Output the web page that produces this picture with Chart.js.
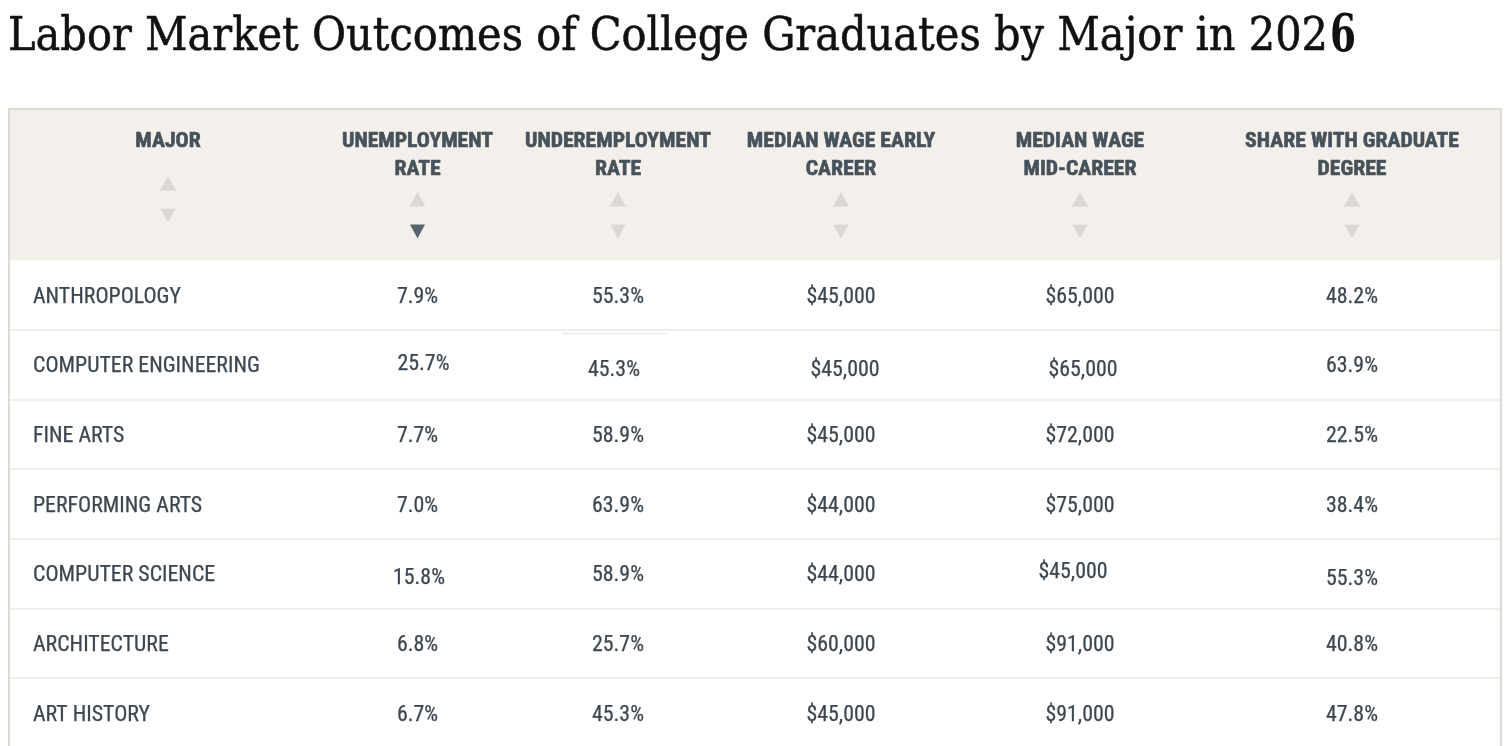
<!DOCTYPE html>
<html><head><meta charset="utf-8">
<script src="https://cdn.jsdelivr.net/npm/chart.js@4.4.1/dist/chart.umd.min.js"></script>
<style>
html,body{margin:0;padding:0;background:#fff;overflow:hidden;width:1509px;height:746px}
#wrap{position:relative;width:1509px;height:748px}
</style></head><body>
<div id="wrap"><canvas id="c"></canvas></div>
<script>
// ---------- data ----------
const titleMain = 'Labor Market Outcomes of College Graduates by Major in 202';
const titleLast = '6';
const columnHeaders = [
  ['MAJOR'],
  ['UNEMPLOYMENT', 'RATE'],
  ['UNDEREMPLOYMENT', 'RATE'],
  ['MEDIAN WAGE EARLY', 'CAREER'],
  ['MEDIAN WAGE', 'MID-CAREER'],
  ['SHARE WITH GRADUATE', 'DEGREE']
];
const majors = ['ANTHROPOLOGY', 'COMPUTER ENGINEERING', 'FINE ARTS', 'PERFORMING ARTS',
  'COMPUTER SCIENCE', 'ARCHITECTURE', 'ART HISTORY'];
const unemploymentRate = [7.9, 25.7, 7.7, 7.0, 15.8, 6.8, 6.7];
const underemploymentRate = [55.3, 45.3, 58.9, 63.9, 58.9, 25.7, 45.3];
const wageEarlyCareer = [45000, 45000, 45000, 44000, 44000, 60000, 45000];
const wageMidCareer = [65000, 65000, 72000, 75000, 45000, 91000, 91000];
const shareGraduateDegree = [48.2, 63.9, 22.5, 38.4, 55.3, 40.8, 47.8];
const sortedColumn = 1; // unemployment rate, descending arrow active

// ---------- layout (not data) ----------
const colCenters = [158, 407.5, 608, 831, 1070, 1342]; // in x-scale units (table px)
const firstColLeft = 23;
// small per-cell displacements seen in the reference [row, col, dx, dy]
const nudges = [[1,1,6,-2.5],[1,2,-4,3.5],[1,3,4,3.5],[1,4,3,3.5],[4,1,1.5,2.5],[4,4,-7,-3.5],[4,5,0,3.5]];

const pct = v => v.toFixed(1) + '%';
const usd = v => '$' + v.toLocaleString('en-US');
const columnsText = [
  majors,
  unemploymentRate.map(pct),
  underemploymentRate.map(pct),
  wageEarlyCareer.map(usd),
  wageMidCareer.map(usd),
  shareGraduateDegree.map(pct)
];

const BODY_FONT = '"Roboto Condensed", Roboto, "Liberation Sans Narrow", sans-serif';
const TITLE_FONT = '"DejaVu Serif Condensed", "DejaVu Serif", serif';

function drawScaled(ctx, text, x, y, sx, align, strokeW) {
  ctx.save();
  ctx.translate(x, y);
  ctx.scale(sx, 1);
  ctx.textAlign = align;
  ctx.fillText(text, 0, 0);
  if (strokeW) {
    ctx.strokeStyle = ctx.fillStyle;
    ctx.lineWidth = strokeW;
    ctx.lineJoin = 'round';
    ctx.strokeText(text, 0, 0);
  }
  ctx.restore();
}

const tablePlugin = {
  id: 'tablePlugin',
  beforeDraw(chart) {
    const ctx = chart.ctx;
    const xs = chart.scales.x;
    const top = chart.chartArea.top;
    ctx.save();
    // title
    ctx.fillStyle = '#111';
    ctx.textBaseline = 'alphabetic';
    ctx.font = '46px ' + TITLE_FONT;
    const tw = ctx.measureText(titleMain).width;
    drawScaled(ctx, titleMain, 8, 50, 1320 / tw, 'left', 0.5);
    ctx.font = 'bold 52px ' + TITLE_FONT;
    const w6 = ctx.measureText(titleLast).width;
    drawScaled(ctx, titleLast, 1330, 50.5, 26 / w6, 'left');

    // header background + border
    const L = xs.getPixelForValue(0), R = xs.getPixelForValue(1490);
    ctx.fillStyle = '#f3f0eb';
    ctx.fillRect(L, 110, R - L, top - 110);
    ctx.strokeStyle = '#dddad4';
    ctx.lineWidth = 2;
    ctx.strokeRect(L - 1, 109, R - L + 2, 800);

    // header text
    ctx.font = 'bold 21px ' + BODY_FONT;
    const hsx = 151 / ctx.measureText('UNEMPLOYMENT').width;
    ctx.fillStyle = '#47525b';
    columnHeaders.forEach((lines, c) => {
      const cx = xs.getPixelForValue(colCenters[c]);
      lines.forEach((t, i) => drawScaled(ctx, t, cx, 146.5 + i * 28, hsx, 'center', 0.6));
      const upTop = lines.length === 1 ? 176 : 192;
      const dnTop = upTop + 32.5;
      ctx.fillStyle = '#dad8d3';
      ctx.beginPath();
      ctx.moveTo(cx - 8, upTop + 14.5); ctx.lineTo(cx + 8, upTop + 14.5); ctx.lineTo(cx, upTop);
      ctx.closePath(); ctx.fill();
      ctx.fillStyle = c === sortedColumn ? '#5a646c' : '#dad8d3';
      ctx.beginPath();
      ctx.moveTo(cx - 7.5, dnTop); ctx.lineTo(cx + 7.5, dnTop); ctx.lineTo(cx, dnTop + 14);
      ctx.closePath(); ctx.fill();
      ctx.fillStyle = '#47525b';
    });
    ctx.restore();
  },
  afterDatasetsDraw(chart) {
    const ctx = chart.ctx;
    const xs = chart.scales.x, ys = chart.scales.y;
    ctx.save();
    // stray short rule seen under the first row
    ctx.strokeStyle = '#ebeae6';
    ctx.lineWidth = 1.5;
    ctx.beginPath();
    ctx.moveTo(xs.getPixelForValue(552), 333.5);
    ctx.lineTo(xs.getPixelForValue(658), 333.5);
    ctx.stroke();

    ctx.font = '22px ' + BODY_FONT;
    const bsx = 148 / ctx.measureText('ANTHROPOLOGY').width;
    ctx.fillStyle = '#3d4750';
    ctx.textBaseline = 'alphabetic';
    columnsText.forEach((vals, c) => {
      vals.forEach((t, r) => {
        let dx = 0, dy = 0;
        nudges.forEach(n => { if (n[0] === r && n[1] === c) { dx = n[2]; dy = n[3]; } });
        const y = ys.getPixelForValue(r) + 7.5 + dy;
        if (c === 0) {
          drawScaled(ctx, t, xs.getPixelForValue(firstColLeft) + dx, y, bsx, 'left', 0.25);
        } else {
          drawScaled(ctx, t, xs.getPixelForValue(colCenters[c]) + dx, y, bsx, 'center', 0.25);
        }
      });
    });
    ctx.restore();
  }
};

new Chart(document.getElementById('c'), {
  type: 'scatter',
  data: {
    labels: majors,
    datasets: columnsText.map((vals, c) => ({
      label: columnHeaders[c].join(' '),
      data: majors.map(m => ({ x: colCenters[c], y: m })),
      pointRadius: 0,
      pointHoverRadius: 0
    }))
  },
  options: {
    responsive: true,
    maintainAspectRatio: false,
    animation: false,
    events: [],
    layout: { padding: { top: 260.5, left: 10, right: 9, bottom: 0 } },
    plugins: { legend: { display: false }, tooltip: { enabled: false }, title: { display: false } },
    scales: {
      x: { type: 'linear', min: 0, max: 1490, display: false },
      y: {
        type: 'category',
        labels: majors,
        offset: true,
        border: { display: false },
        ticks: { display: false },
        grid: {
          offset: true,
          drawTicks: false,
          lineWidth: 2,
          color: ctx => (ctx.index === 0 ? 'rgba(0,0,0,0)' : '#efeeea')
        }
      }
    }
  },
  plugins: [tablePlugin]
});
</script>
</body></html>
